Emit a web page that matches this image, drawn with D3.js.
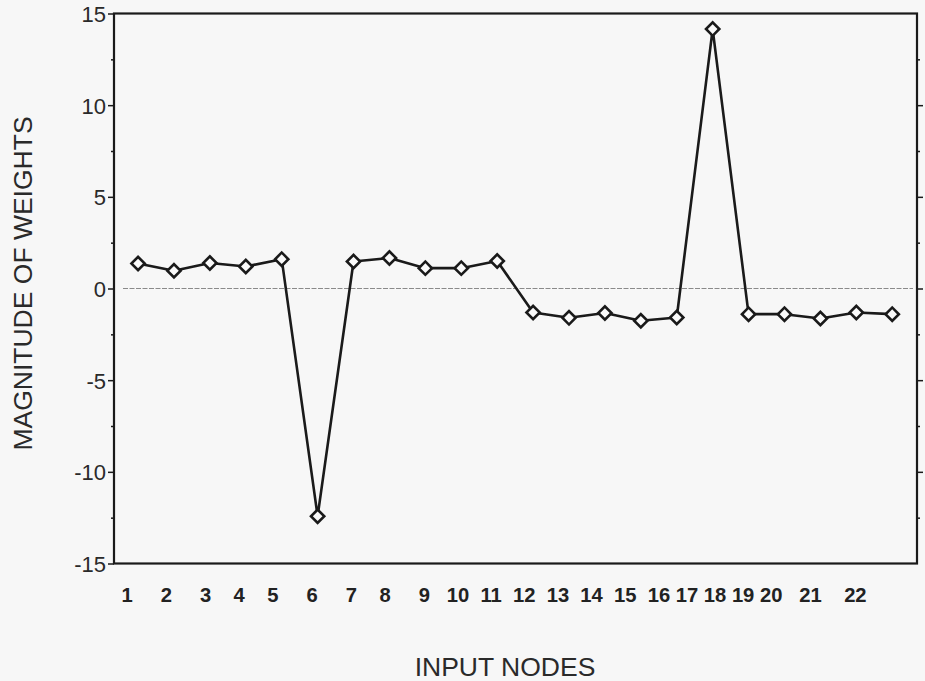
<!DOCTYPE html>
<html>
<head>
<meta charset="utf-8">
<script src="https://cdn.jsdelivr.net/npm/d3@7"></script>
<style>
  html, body { margin: 0; padding: 0; background: #f7f7f7; }
  svg { display: block; }
</style>
</head>
<body>
<script>
// ---- data ----
const nodes = [1,2,3,4,5,6,7,8,9,10,11,12,13,14,15,16,17,18,19,20,21,22];
const weights = [1.36,0.97,1.39,1.2,1.6,-12.42,1.47,1.66,1.11,1.11,1.5,-1.31,-1.6,-1.34,-1.76,-1.58,14.15,-1.4,-1.4,-1.64,-1.31,-1.4];
const xTickLabels = ["1","2","3","4","5","6","7","8","9","10","11","12","13","14","15","16","17","18","19","20","21","22"];
const yTicks = [-15,-10,-5,0,5,10,15];
const yMinorTicks = [-12.5,-7.5,-2.5,2.5,7.5,12.5];
const xTitle = "INPUT NODES";
const yTitle = "MAGNITUDE OF WEIGHTS";

// ---- layout ----
const W = 925, H = 681;
const plot = {left: 114, right: 917, top: 13.5, bottom: 563.5};
// spacing (number of blanks) between successive x labels in the original typed label row
const labelGaps = [5,5,4,4,5,5,4,5,3,2,2,2,2,2,2,1,1,1,1,3,4];

const svg = d3.select("body").append("svg").attr("width", W).attr("height", H);

const x = d3.scaleLinear().domain([0.33, 22.69]).range([plot.left, plot.right]);
const y = d3.scaleLinear().domain([-15, 15]).range([plot.bottom, plot.top]);

const ink = "#1a1a1a";
const font = "'Liberation Sans', Arial, sans-serif";

// zero reference line
svg.append("line")
  .attr("x1", plot.left + 9).attr("x2", plot.right - 4)
  .attr("y1", y(0)).attr("y2", y(0))
  .attr("stroke", "#8a8a8a").attr("stroke-width", 1)
  .attr("stroke-dasharray", "5,1.5");

// left axis (major)
const leftAxis = d3.axisLeft(y).tickValues(yTicks).tickSize(6).tickPadding(2).tickFormat(d => String(d));
const gL = svg.append("g").attr("transform", `translate(${plot.left},0)`).call(leftAxis);
gL.select(".domain").remove();
gL.selectAll(".tick line").attr("stroke", ink).attr("stroke-width", 1.5);
gL.selectAll(".tick text")
  .attr("font-family", font)
  .attr("font-size", 22).attr("fill", "#2a2a2a").attr("dy", "0.36em");
// left axis (minor)
const gLm = svg.append("g").attr("transform", `translate(${plot.left},0)`)
  .call(d3.axisLeft(y).tickValues(yMinorTicks).tickSize(3).tickFormat(""));
gLm.select(".domain").remove();
gLm.selectAll(".tick line").attr("stroke", ink).attr("stroke-width", 1.5);

// right axis
const gR = svg.append("g").attr("transform", `translate(${plot.right},0)`)
  .call(d3.axisRight(y).tickValues(yTicks.slice(1, -1)).tickSize(6).tickFormat(""));
gR.select(".domain").remove();
gR.selectAll(".tick line").attr("stroke", ink).attr("stroke-width", 1.5);
const gRm = svg.append("g").attr("transform", `translate(${plot.right},0)`)
  .call(d3.axisRight(y).tickValues(yMinorTicks).tickSize(3).tickFormat(""));
gRm.select(".domain").remove();
gRm.selectAll(".tick line").attr("stroke", ink).attr("stroke-width", 1.5);

// frame
svg.append("rect")
  .attr("x", plot.left).attr("y", plot.top)
  .attr("width", plot.right - plot.left).attr("height", plot.bottom - plot.top)
  .attr("fill", "none").attr("stroke", ink).attr("stroke-width", 2.2);

// x tick labels: one typed row, as in the original
let labelRow = xTickLabels[0];
for (let i = 1; i < xTickLabels.length; i++) {
  labelRow += " ".repeat(labelGaps[i - 1]) + xTickLabels[i];
}
svg.append("text")
  .attr("x", 121.4).attr("y", 602)
  .attr("xml:space", "preserve")
  .style("white-space", "pre")
  .attr("font-family", font)
  .attr("font-size", 20.2).attr("font-weight", "bold").attr("fill", "#222")
  .text(labelRow);

// line
const line = d3.line().x((d, i) => x(nodes[i])).y(d => y(d));
svg.append("path")
  .datum(weights)
  .attr("d", line)
  .attr("fill", "none").attr("stroke", ink).attr("stroke-width", 2.6)
  .attr("stroke-linejoin", "round");

// diamond markers
const sq = d3.symbol().type(d3.symbolSquare).size(88);
svg.append("g").selectAll("path")
  .data(weights)
  .join("path")
  .attr("d", sq)
  .attr("transform", (d, i) => `translate(${x(nodes[i])},${y(d)}) rotate(45)`)
  .attr("fill", "#fafafa").attr("stroke", ink).attr("stroke-width", 2.6);

// titles
svg.append("text")
  .attr("x", 505).attr("y", 676)
  .attr("text-anchor", "middle")
  .attr("font-family", font)
  .attr("font-size", 26.5).attr("fill", "#2a2a2a")
  .text(xTitle);

svg.append("text")
  .attr("transform", `translate(32,${(plot.top + plot.bottom) / 2 - 5}) rotate(-90)`)
  .attr("text-anchor", "middle")
  .attr("font-family", font)
  .attr("font-size", 26.5).attr("fill", "#2a2a2a")
  .text(yTitle);
</script>
</body>
</html>
